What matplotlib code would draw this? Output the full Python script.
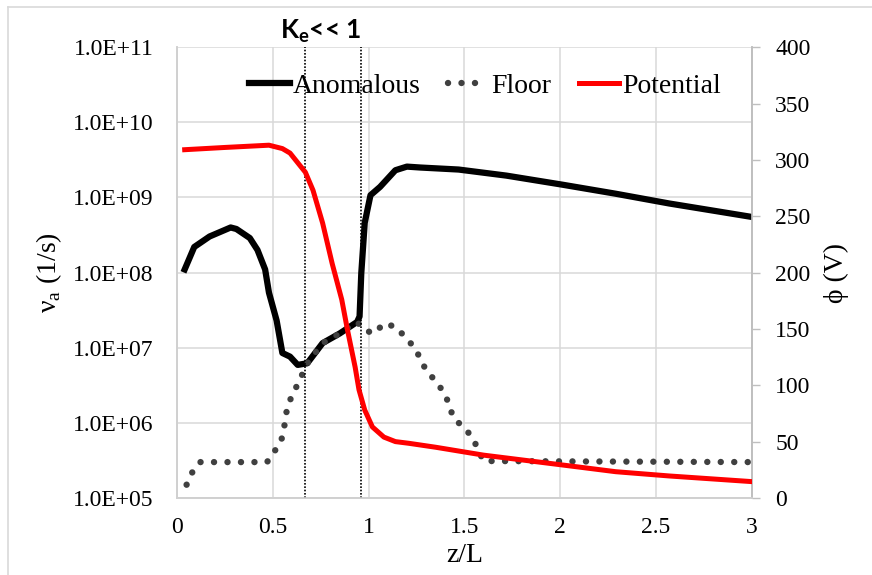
import matplotlib
matplotlib.use('Agg')
import matplotlib.pyplot as plt
from matplotlib.ticker import FuncFormatter, NullLocator
from matplotlib.lines import Line2D

plt.rcParams['font.family'] = ['Liberation Serif', 'DejaVu Serif']

# anomalous collision frequency (1/s)
anom_z = [0.04, 0.09, 0.17, 0.28, 0.31, 0.38, 0.42, 0.46, 0.48, 0.52, 0.55, 0.59,
          0.63, 0.68, 0.76, 0.85, 0.94, 0.953, 0.962, 0.98, 1.01, 1.06, 1.14, 1.20,
          1.27, 1.47, 1.72, 2.01, 2.29, 2.57, 2.81, 3.00]
anom_nu = [1.10e8, 2.19e8, 3.02e8, 3.98e8, 3.80e8, 2.88e8, 2.0e8, 1.1e8, 5.4e7, 2.3e7,
           8.5e6, 7.6e6, 5.9e6, 6.2e6, 1.15e7, 1.55e7, 2.2e7, 2.6e7, 9.8e7, 4.6e8,
           1.07e9, 1.38e9, 2.3e9, 2.57e9, 2.5e9, 2.35e9, 1.95e9, 1.48e9, 1.12e9,
           8.3e8, 6.6e8, 5.5e8]

# floor frequency (1/s)
floor_z = [0.05, 0.08, 0.12, 0.47, 0.51, 0.545, 0.56, 0.57, 0.59, 0.62, 0.65, 0.68,
           0.76, 0.85, 0.94, 0.98, 1.03, 1.08, 1.14, 1.19, 1.24, 1.27, 1.30, 1.35,
           1.39, 1.42, 1.44, 1.49, 1.54, 1.57, 1.60, 3.00]
floor_nu = [1.5e5, 2.2e5, 3.0e5, 3.0e5, 4.2e5, 5.9e5, 8.9e5, 1.35e6, 2.0e6, 2.9e6,
            4.2e6, 6.2e6, 1.15e7, 1.55e7, 2.2e7, 1.7e7, 1.55e7, 2.1e7, 1.9e7, 1.4e7,
            1.0e7, 7.2e6, 5.0e6, 3.6e6, 2.6e6, 1.8e6, 1.2e6, 8.9e5, 6.6e5, 4.5e5,
            3.1e5, 3.0e5]

# plasma potential (V)
pot_z = [0.04, 0.25, 0.48, 0.55, 0.59, 0.67, 0.71, 0.76, 0.81, 0.86, 0.89, 0.93,
         0.95, 0.98, 1.02, 1.08, 1.14, 1.21, 1.35, 1.60, 2.01, 2.29, 2.57, 3.00]
pot_v = [309, 311, 313, 310, 306, 289, 273, 244, 208, 176, 149, 116,
         96, 78, 63, 54, 50, 48.5, 45, 38, 29.3, 23.3, 19.5, 14.5]

ke_bounds = [0.67, 0.96]
decades = [1e5, 1e6, 1e7, 1e8, 1e9, 1e10, 1e11]
phi_ticks = [0, 50, 100, 150, 200, 250, 300, 350, 400]
x_ticks = [0, 0.5, 1, 1.5, 2, 2.5, 3]

fig = plt.figure(figsize=(8.72, 5.75), dpi=100)
ax = fig.add_axes([0.203, 0.134, 0.659, 0.784])
ax2 = ax.twinx()

ax.set_yscale('log')
ax.set_ylim(1e5, 1e11)
ax.set_xlim(0, 3)
ax.set_yticks(decades)
ax.yaxis.set_minor_locator(NullLocator())
ax.yaxis.set_major_formatter(FuncFormatter(lambda v, p: f"{v:.1E}"))
ax.set_xticks(x_ticks)
ax.set_xticklabels(['0', '0.5', '1', '1.5', '2', '2.5', '3'])
ax.grid(True, color='#d9d9d9', lw=1.1)
ax.set_axisbelow(True)
ax.tick_params(axis='both', length=0, labelsize=17, colors='black')
ax.tick_params(axis='y', pad=17)
ax.tick_params(axis='x', pad=14)

l1, = ax.plot(anom_z, anom_nu, color='black', lw=4.5, solid_joinstyle='round',
              label='Anomalous', zorder=3)
l2, = ax.plot(floor_z, floor_nu, color='#404040', lw=4.6, linestyle=(0, (0.01, 2.1)),
              dash_capstyle='round', label='Floor', zorder=4)
for zb in ke_bounds:
    ax.axvline(zb, color='black', lw=1.2, linestyle=(0, (1, 1)), zorder=5)

ax2.set_ylim(0, 400)
ax2.set_yticks(phi_ticks)
l3, = ax2.plot(pot_z, pot_v, color='#ff0000', lw=3.6, solid_joinstyle='round',
               label='Potential', zorder=3)
ax2.tick_params(axis='y', length=6, width=1, color='#bfbfbf', labelsize=17, pad=11)

for a in (ax, ax2):
    a.spines['top'].set_visible(False)
    a.spines['left'].set_color('#d0d0d0')
    a.spines['bottom'].set_color('#d0d0d0')
    a.spines['right'].set_color('#bfbfbf')
    a.spines['left'].set_linewidth(1.2)
    a.spines['bottom'].set_linewidth(1.2)
    a.spines['right'].set_linewidth(1.2)

ax.set_xlabel('z/L', fontsize=20)
ax.xaxis.set_label_coords(0.5, -0.10)
ax.set_ylabel(r'ν$_\mathregular{a}$ (1/s)', fontsize=20)
ax.yaxis.set_label_coords(-0.197, 0.5)
ax2.set_ylabel('ϕ (V)', fontsize=20)
ax2.yaxis.set_label_coords(1.125, 0.5)

ax2.legend(handles=[l1, l2, l3], loc='center', bbox_to_anchor=(0.536, 0.913), ncol=3,
           frameon=False, fontsize=20, handlelength=1.45, handletextpad=0.1,
           columnspacing=1.0, borderaxespad=0)

fig.text(280 / 872, 1 - 38.3 / 575, r'K$_\mathregular{e}$<< 1', family='Lato',
         fontweight='bold', fontsize=19, va='baseline', ha='left')

# chart area border (top and left edges visible)
fig.add_artist(Line2D([8 / 872, 8 / 872], [0, 1 - 7 / 575], color='#d9d9d9', lw=1.2,
                      transform=fig.transFigure))
fig.add_artist(Line2D([8 / 872, 1], [1 - 7 / 575, 1 - 7 / 575], color='#d9d9d9', lw=1.2,
                      transform=fig.transFigure))

fig.savefig('out.png', dpi=100)
